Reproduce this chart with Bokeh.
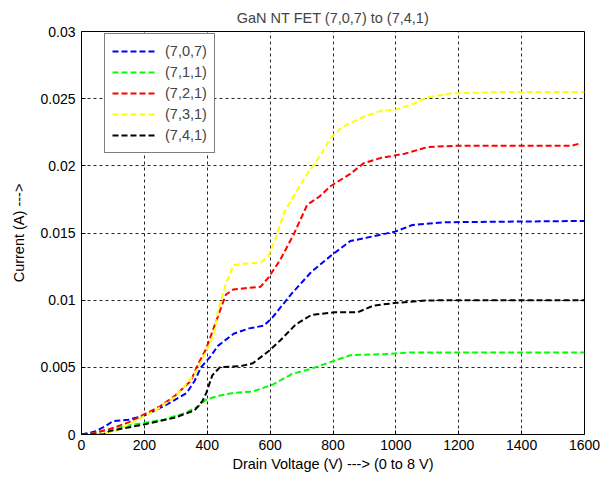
from bokeh.plotting import figure
from bokeh.models import Legend, LegendItem, FixedTicker, Title
from bokeh.embed import file_html
from bokeh.resources import INLINE

# ---- data ----
x_707 = [0, 40, 75, 100, 150, 199, 261, 335, 360, 380, 410, 434, 484, 533, 580, 607, 669, 731, 793, 855, 917, 997, 1053, 1153, 1600]
y_707 = [0, 0.0002, 0.0006, 0.0010, 0.0011, 0.0014, 0.0021, 0.0031, 0.0040, 0.0050, 0.0058, 0.0066, 0.0075, 0.0079, 0.0081,
         0.0087, 0.0105, 0.0121, 0.0133, 0.0144, 0.0147, 0.0151, 0.0156, 0.0158, 0.0159]

x_711 = [0, 40, 88, 180, 261, 330, 372, 397, 440, 484, 545, 607, 669, 731, 805, 855, 978, 1040, 1200, 1600]
y_711 = [0, 0.0001, 0.0004, 0.0008, 0.0011, 0.0016, 0.0021, 0.0026, 0.0029, 0.0031, 0.0032, 0.0037, 0.0045, 0.0049,
         0.0055, 0.0059, 0.0060, 0.0061, 0.0061, 0.0061]

x_721 = [0, 40, 88, 150, 199, 250, 298, 348, 372, 397, 434, 459, 483, 570, 595, 632, 675, 718, 756, 793, 855, 898, 954,
         1028, 1102, 1200, 1560, 1590]
y_721 = [0, 0.0001, 0.0004, 0.0009, 0.0015, 0.0021, 0.0029, 0.0040, 0.0053, 0.0064, 0.0088, 0.0104, 0.0108, 0.0110,
         0.0117, 0.0130, 0.0149, 0.0171, 0.0177, 0.0185, 0.0194, 0.0202, 0.0206, 0.0209, 0.0214, 0.0215, 0.0215, 0.0217]

x_731 = [50, 113, 170, 236, 298, 360, 397, 422, 434, 459, 483, 508, 570, 595, 619, 644, 681, 718, 755, 793, 830, 892, 954,
         1003, 1053, 1102, 1178, 1350, 1600]
y_731 = [0, 0.0003, 0.0010, 0.0018, 0.0028, 0.0045, 0.0062, 0.0075, 0.0092, 0.0112, 0.0126, 0.0127, 0.0128, 0.0133,
         0.0147, 0.0165, 0.0180, 0.0194, 0.0206, 0.0221, 0.0229, 0.0236, 0.0241, 0.0242, 0.0246, 0.0251, 0.0254, 0.0255, 0.0255]

x_741 = [0, 70, 88, 199, 298, 360, 385, 397, 416, 440, 508, 545, 595, 632, 682, 731, 805, 879, 929, 1002, 1101, 1200, 1600]
y_741 = [0, 0, 0.00025, 0.00075, 0.00126, 0.0018, 0.0025, 0.0031, 0.0044, 0.0050, 0.0051, 0.0053, 0.0062, 0.0070,
         0.0082, 0.0089, 0.0091, 0.0091, 0.0096, 0.0098, 0.00998, 0.0100, 0.0100]

series_names = ["(7,0,7)", "(7,1,1)", "(7,2,1)", "(7,3,1)", "(7,4,1)"]
series_colors = ["#0000ff", "#00ff00", "#ff0000", "#ffff00", "#000000"]

x_ticks = [0, 200, 400, 600, 800, 1000, 1200, 1400, 1600]
y_ticks = [0, 0.005, 0.01, 0.015, 0.02, 0.025, 0.03]
y_tick_labels = ["0", "0.005", "0.01", "0.015", "0.02", "0.025", "0.03"]

FONT = "Liberation Sans"

p = figure(width=609, height=477, output_backend="svg", toolbar_location=None,
           x_range=(0, 1600), y_range=(0, 0.03),
           min_border_left=81, min_border_right=25, min_border_top=31, min_border_bottom=43)

p.title = Title(text="GaN NT FET (7,0,7) to (7,4,1)", align="center", text_font=FONT,
                text_font_size="14.5px", text_font_style="normal", standoff=11, offset=0)

xs = [x_707, x_711, x_721, x_731, x_741]
ys = [y_707, y_711, y_721, y_731, y_741]
items = []
for xv, yv, name, col in zip(xs, ys, series_names, series_colors):
    r = p.line(xv, yv, line_color=col, line_width=2, line_dash="6 3")
    items.append(LegendItem(label=name, renderers=[r]))

# axes
p.xaxis.ticker = FixedTicker(ticks=x_ticks)
p.yaxis.ticker = FixedTicker(ticks=y_ticks)
p.yaxis.major_label_overrides = {t: s for t, s in zip(y_ticks, y_tick_labels)}
for ax in (p.xaxis, p.yaxis):
    ax.major_tick_in = 4
    ax.major_tick_out = 0
    ax.minor_tick_line_color = None
    ax.axis_line_color = "black"
    ax.major_tick_line_color = "black"
    ax.major_label_text_font = FONT
    ax.major_label_text_font_size = "14px"
    ax.major_label_text_color = "black"
    ax.axis_label_text_font = FONT
    ax.axis_label_text_font_size = "14.5px"
    ax.axis_label_text_font_style = "normal"
    ax.axis_label_text_color = "black"
p.xaxis.axis_label = "Drain Voltage (V) ---> (0 to 8 V)"
p.yaxis.axis_label = "Current (A) --->"
p.xaxis.major_label_standoff = 5
p.xaxis.axis_label_standoff = 3
p.yaxis.major_label_standoff = 6
p.yaxis.axis_label_standoff = 10

# grid
for g in (p.xgrid, p.ygrid):
    g.grid_line_color = "black"
    g.grid_line_dash = "3 3"
    g.grid_line_alpha = 0.85
    g.grid_line_width = 1

p.outline_line_color = "black"
p.outline_line_alpha = 1
p.background_fill_color = "white"
p.border_fill_color = "white"

legend = Legend(items=items, location=(23, 281))
legend.label_text_font = FONT
legend.label_text_font_size = "14.5px"
legend.label_height = 20
legend.glyph_height = 20
legend.glyph_width = 45
legend.spacing = 1
legend.padding = 7
legend.margin = 0
legend.label_standoff = 8
legend.border_line_color = "black"
legend.border_line_width = 1
legend.background_fill_alpha = 1
p.add_layout(legend, "center")

open("out.html", "w").write(file_html(p, INLINE))
